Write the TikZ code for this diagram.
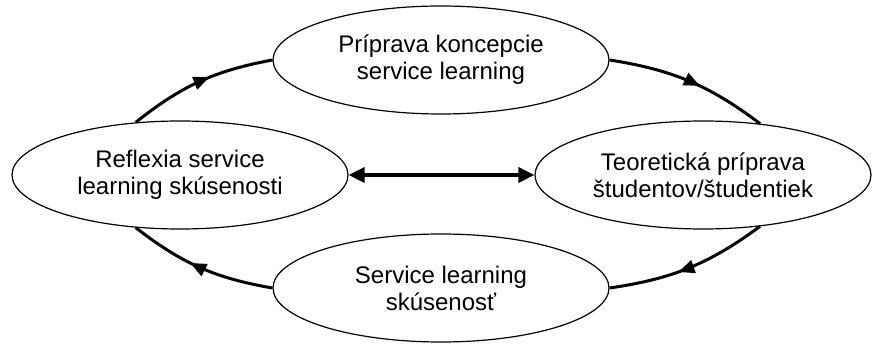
\documentclass[tikz,border=0pt]{standalone}
\usepackage{fontspec}
\setmainfont{Liberation Sans}
\usetikzlibrary{arrows.meta,shapes.geometric,decorations.markings}
\tikzset{%
        phase/.style = {
            ellipse,
            draw = black,
            line width = 1.2pt,
            minimum width = 336pt,
            minimum height = 108pt,
            inner sep = 0pt,
            align = center,
            font = \fontsize{24}{27}\selectfont
        },
        cycle edge/.style = {
            draw = black,
            line width = 3pt,
            bend left = 14,
            postaction = {decorate},
            decoration = {markings,
                mark = at position 0.57 with {\arrow{Triangle[length=16pt, width=13pt]}}}
        },
        link/.style = {
            line width = 3.6pt,
            {Triangle[length=16pt, width=15pt]}-{Triangle[length=16pt, width=15pt]}
        }
}

\begin{document}
\begin{tikzpicture}[x=1pt, y=-1pt]
            \useasboundingbox (0, 0) rectangle (874, 344);
            \node[phase] (koncepcia) at (441, 60) {Príprava koncepcie\\service learning};
            \node[phase] (reflexia) at (180, 175) {Reflexia service\\learning skúsenosti};
            \node[phase] (teoria) at (703, 175) {Teoretická príprava\\študentov/študentiek};
            \node[phase] (skusenost) at (441, 288) {Service learning\\skúsenosť};
            \path
                (reflexia.130) edge[cycle edge] (koncepcia.west)
                (koncepcia.east) edge[cycle edge] (teoria.42)
                (teoria.-42) edge[cycle edge] (skusenost.east)
                (skusenost.west) edge[cycle edge] (reflexia.-130)
                ;
            \draw[link] (reflexia) -- (teoria);
        \end{tikzpicture}
\end{document}
